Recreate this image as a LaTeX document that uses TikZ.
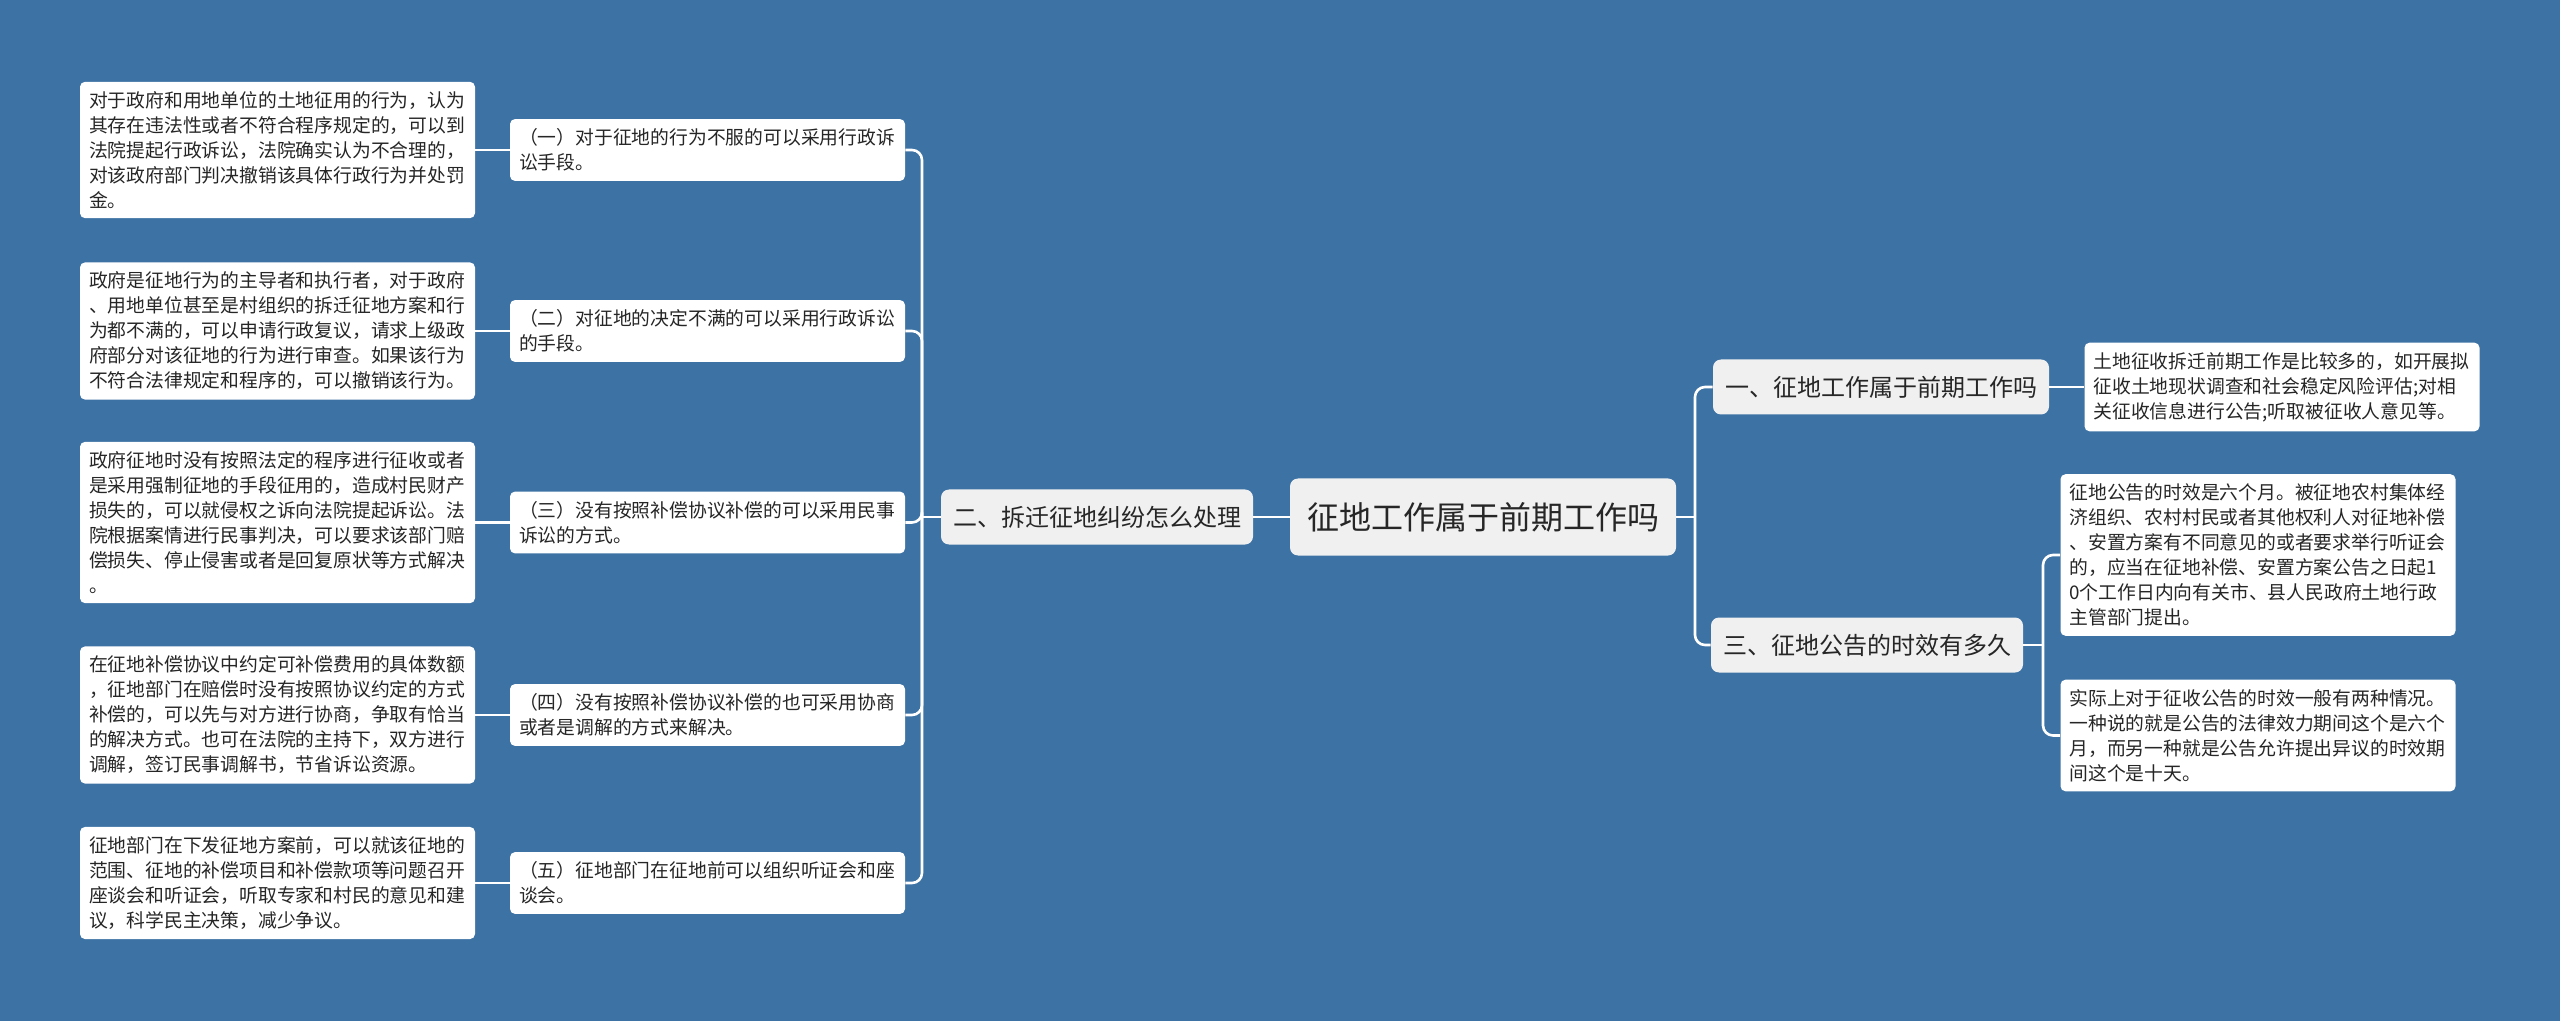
\documentclass[tikz,border=0pt]{standalone}
\usepackage{fontspec}
\setmainfont{Noto Sans CJK SC}
\usetikzlibrary{calc, positioning}
\definecolor{bgblue}{HTML}{3D72A4}
\definecolor{topicgray}{HTML}{F0F0F0}
\definecolor{ink}{HTML}{262626}

\begin{document}
\begin{tikzpicture}[x=0.5pt, y=-0.5pt,
    leaf/.style={fill=white, rounded corners=2.5pt, text width=188.5pt, align=left,
        inner xsep=4.5pt, inner ysep=4.8pt, text=ink, font=\fontsize{9.4pt}{12.5pt}\selectfont},
    topic/.style={fill=topicgray, rounded corners=4pt, text=ink, inner xsep=6pt,
        minimum height=27.5pt, font=\fontsize{12pt}{14pt}\selectfont},
    link/.style={draw=white, line width=1.3pt, rounded corners=5pt}]
                    \useasboundingbox (0,0) rectangle (2560,1021);
                    \fill[bgblue] (0,0) rectangle (2560,1021);

                    % centre and first level
                    \node[topic, minimum height=38.5pt, inner xsep=8.5pt, font=\fontsize{16pt}{18pt}\selectfont] (root) at (1483,517) {征地工作属于前期工作吗};
                    \node[topic] (q2) at (1097,517) {二、拆迁征地纠纷怎么处理};
                    \node[topic] (q1) at (1881,387) {一、征地工作属于前期工作吗};
                    \node[topic] (q3) at (1867,645) {三、征地公告的时效有多久};

                    % left side, second level
                    \node[leaf] (m1) at (707.5,150) {（一）对于征地的行为不服的可以采用行政诉\\讼手段。};
                    \node[leaf] (m2) at (707.5,331) {（二）对征地的决定不满的可以采用行政诉讼\\的手段。};
                    \node[leaf] (m3) at (707.5,522.5) {（三）没有按照补偿协议补偿的可以采用民事\\诉讼的方式。};
                    \node[leaf] (m4) at (707.5,715) {（四）没有按照补偿协议补偿的也可采用协商\\或者是调解的方式来解决。};
                    \node[leaf] (m5) at (707.5,883) {（五）征地部门在征地前可以组织听证会和座\\谈会。};

                    % left side, third level
                    \node[leaf] (l1) at (277.5,150) {对于政府和用地单位的土地征用的行为，认为\\其存在违法性或者不符合程序规定的，可以到\\法院提起行政诉讼，法院确实认为不合理的，\\对该政府部门判决撤销该具体行政行为并处罚\\金。};
                    \node[leaf] (l2) at (277.5,331) {政府是征地行为的主导者和执行者，对于政府\\、用地单位甚至是村组织的拆迁征地方案和行\\为都不满的，可以申请行政复议，请求上级政\\府部分对该征地的行为进行审查。如果该行为\\不符合法律规定和程序的，可以撤销该行为。};
                    \node[leaf] (l3) at (277.5,522.5) {政府征地时没有按照法定的程序进行征收或者\\是采用强制征地的手段征用的，造成村民财产\\损失的，可以就侵权之诉向法院提起诉讼。法\\院根据案情进行民事判决，可以要求该部门赔\\偿损失、停止侵害或者是回复原状等方式解决\\。};
                    \node[leaf] (l4) at (277.5,715) {在征地补偿协议中约定可补偿费用的具体数额\\，征地部门在赔偿时没有按照协议约定的方式\\补偿的，可以先与对方进行协商，争取有恰当\\的解决方式。也可在法院的主持下，双方进行\\调解，签订民事调解书，节省诉讼资源。};
                    \node[leaf] (l5) at (277.5,883) {征地部门在下发征地方案前，可以就该征地的\\范围、征地的补偿项目和补偿款项等问题召开\\座谈会和听证会，听取专家和村民的意见和建\\议，科学民主决策，减少争议。};

                    % right side
                    \node[leaf] (n1) at (2282,387) {土地征收拆迁前期工作是比较多的，如开展拟\\征收土地现状调查和社会稳定风险评估;对相\\关征收信息进行公告;听取被征收人意见等。};
                    \node[leaf] (n2) at (2258,555) {征地公告的时效是六个月。被征地农村集体经\\济组织、农村村民或者其他权利人对征地补偿\\、安置方案有不同意见的或者要求举行听证会\\的，应当在征地补偿、安置方案公告之日起1\\0个工作日内向有关市、县人民政府土地行政\\主管部门提出。};
                    \node[leaf] (n3) at (2258,735.5) {实际上对于征收公告的时效一般有两种情况。\\一种说的就是公告的法律效力期间这个是六个\\月，而另一种就是公告允许提出异议的时效期\\间这个是十天。};

                    \coordinate (lspine) at (922,517);
                    \coordinate (rspine) at (1695,517);
                    \coordinate (tspine) at (2043,645);

                    \foreach \i in {1,...,5} {
                        \draw[link] (l\i) -- (m\i);
                        \draw[link] (m\i.east) -| (lspine);
                    }
                    \draw[link] (lspine) -- (q2);
                    \draw[link] (q2) -- (root);
                    \draw[link] (root) -- (rspine);
                    \draw[link] (rspine) |- (q1);
                    \draw[link] (rspine) |- (q3);
                    \draw[link] (q1) -- (n1);
                    \draw[link] (q3) -- (tspine);
                    \draw[link] (tspine) |- (n2);
                    \draw[link] (tspine) |- (n3);
                \end{tikzpicture}
\end{document}
